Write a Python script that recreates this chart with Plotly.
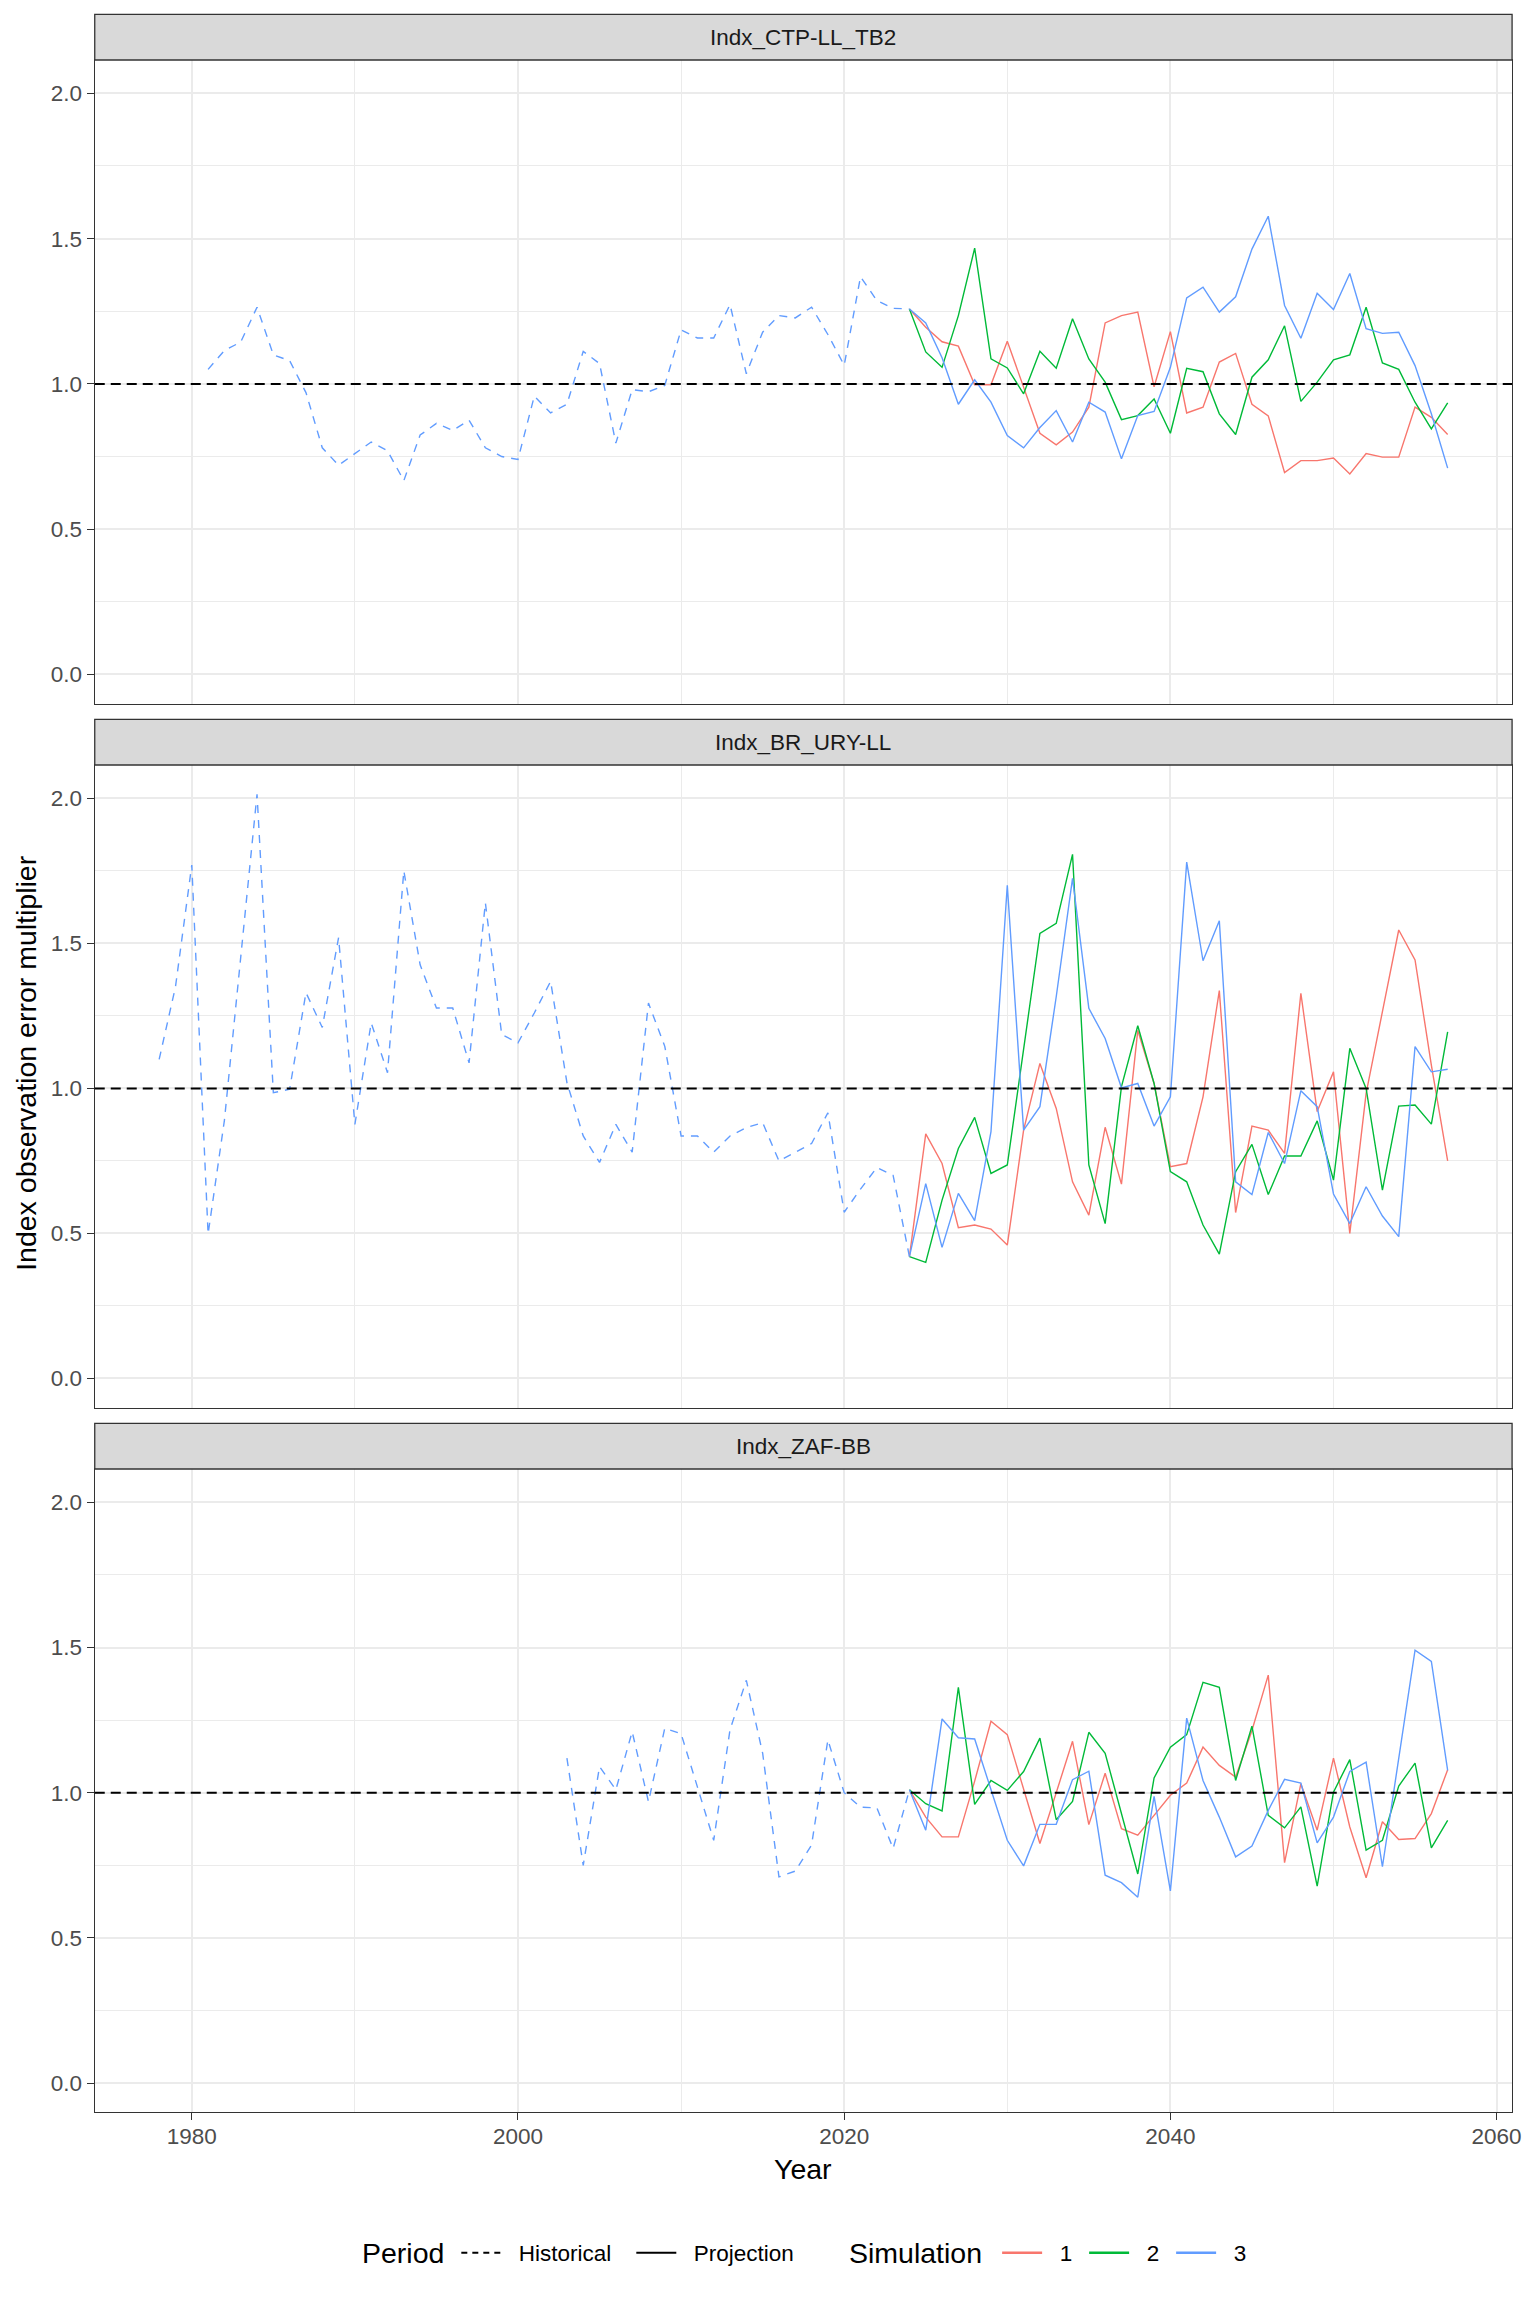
import plotly.graph_objects as go

# panel names (facet strips)
panels = ['Indx_CTP-LL_TB2', 'Indx_BR_URY-LL', 'Indx_ZAF-BB']

# historical index observation error multipliers
hist_years_1 = list(range(1981, 2025))
hist_vals_1 = [1.05, 1.115, 1.144, 1.264, 1.10, 1.08, 0.97, 0.78, 0.72, 0.76,
               0.80, 0.77, 0.667, 0.824, 0.864, 0.84, 0.875, 0.78, 0.75, 0.74,
               0.958, 0.90, 0.93, 1.112, 1.07, 0.796, 0.98, 0.973, 0.995, 1.186,
               1.158, 1.158, 1.273, 1.035, 1.178, 1.235, 1.227, 1.264, 1.17, 1.064,
               1.369, 1.287, 1.26, 1.258]

hist_years_2 = list(range(1978, 2025))
hist_vals_2 = [1.10, 1.35, 1.77, 0.498, 0.89, 1.44, 2.014, 0.985, 0.997, 1.33,
               1.21, 1.52, 0.876, 1.226, 1.054, 1.75, 1.426, 1.277, 1.277, 1.088,
               1.64, 1.186, 1.157, 1.26, 1.369, 1.02, 0.836, 0.745, 0.876, 0.78,
               1.294, 1.145, 0.836, 0.836, 0.78, 0.836, 0.865, 0.882, 0.75, 0.78,
               0.81, 0.916, 0.573, 0.653, 0.727, 0.70, 0.42]

hist_years_3 = list(range(2003, 2025))
hist_vals_3 = [1.119, 0.75, 1.09, 1.01, 1.21, 0.969, 1.222, 1.203, 1.02, 0.836,
               1.217, 1.387, 1.136, 0.71, 0.73, 0.82, 1.182, 1.0, 0.95, 0.948,
               0.808, 1.01]

# projections, simulations 1-3
proj_years = list(range(2024, 2058))

p1_sim1 = [1.258, 1.195, 1.145, 1.13, 0.997, 0.997, 1.147, 0.99, 0.83, 0.79,
           0.834, 0.92, 1.21, 1.235, 1.247, 0.99, 1.18, 0.90, 0.92, 1.075,
           1.105, 0.93, 0.89, 0.695, 0.736, 0.736, 0.745, 0.69, 0.76, 0.748,
           0.748, 0.92, 0.885, 0.826]
p1_sim2 = [1.258, 1.11, 1.057, 1.235, 1.467, 1.086, 1.055, 0.966, 1.112, 1.054,
           1.224, 1.086, 1.006, 0.877, 0.891, 0.948, 0.83, 1.054, 1.042, 0.897,
           0.826, 1.023, 1.083, 1.20, 0.94, 1.006, 1.083, 1.10, 1.264, 1.072,
           1.05, 0.937, 0.845, 0.935]
p1_sim3 = [1.258, 1.21, 1.09, 0.93, 1.014, 0.937, 0.822, 0.78, 0.85, 0.908,
           0.80, 0.937, 0.903, 0.742, 0.891, 0.905, 1.057, 1.296, 1.333, 1.247,
           1.30, 1.464, 1.577, 1.27, 1.157, 1.312, 1.256, 1.38, 1.19, 1.174,
           1.178, 1.063, 0.897, 0.71]

p2_sim1 = [0.42, 0.843, 0.741, 0.52, 0.529, 0.515, 0.46, 0.856, 1.086, 0.931,
           0.678, 0.563, 0.866, 0.67, 1.20, 1.017, 0.73, 0.741, 0.971, 1.337,
           0.572, 0.87, 0.856, 0.776, 1.328, 0.92, 1.057, 0.50, 0.983, 1.264,
           1.546, 1.443, 1.08, 0.75]
p2_sim2 = [0.42, 0.40, 0.615, 0.793, 0.90, 0.707, 0.736, 1.13, 1.534, 1.569,
           1.807, 0.736, 0.534, 1.006, 1.216, 1.017, 0.713, 0.678, 0.529, 0.429,
           0.713, 0.807, 0.634, 0.767, 0.767, 0.888, 0.684, 1.138, 1.0, 0.649,
           0.939, 0.943, 0.877, 1.195]
p2_sim3 = [0.42, 0.672, 0.452, 0.638, 0.544, 0.851, 1.70, 0.856, 0.937, 1.316,
           1.724, 1.276, 1.172, 1.002, 1.017, 0.87, 0.971, 1.78, 1.44, 1.578,
           0.678, 0.634, 0.848, 0.741, 0.992, 0.937, 0.636, 0.534, 0.661, 0.56,
           0.489, 1.144, 1.057, 1.066]

p3_sim1 = [1.01, 0.916, 0.848, 0.848, 1.04, 1.246, 1.20, 1.014, 0.825, 1.0,
           1.177, 0.89, 1.067, 0.876, 0.854, 0.922, 0.991, 1.033, 1.157, 1.094,
           1.054, 1.214, 1.405, 0.759, 1.031, 0.871, 1.119, 0.882, 0.707, 0.90,
           0.839, 0.842, 0.928, 1.079]
p3_sim2 = [1.01, 0.962, 0.937, 1.363, 0.96, 1.042, 1.008, 1.073, 1.188, 0.907,
           0.97, 1.208, 1.136, 0.928, 0.72, 1.051, 1.157, 1.20, 1.38, 1.363,
           1.042, 1.229, 0.922, 0.879, 0.951, 0.678, 1.002, 1.114, 0.802, 0.836,
           1.023, 1.102, 0.81, 0.905]
p3_sim3 = [1.01, 0.871, 1.254, 1.189, 1.185, 1.008, 0.836, 0.748, 0.891, 0.891,
           1.045, 1.074, 0.716, 0.69, 0.64, 0.987, 0.662, 1.257, 1.042, 0.916,
           0.779, 0.816, 0.939, 1.046, 1.033, 0.827, 0.916, 1.073, 1.105, 0.745,
           1.12, 1.491, 1.452, 1.077]

sim_names = ['1', '2', '3']
sim_colors = ['#F8766D', '#00BA38', '#619CFF']
ref_level = 1.0

hist = [(hist_years_1, hist_vals_1), (hist_years_2, hist_vals_2), (hist_years_3, hist_vals_3)]
proj = [[p1_sim1, p1_sim2, p1_sim3], [p2_sim1, p2_sim2, p2_sim3], [p3_sim1, p3_sim2, p3_sim3]]

W, H = 1536, 2304
x_dom = [95.3 / W, 1521 / W]
# (strip top, panel top, panel bottom) in pixels from top
rows_px = [(14.3, 60, 703.7), (719.3, 765, 1407.7), (1423.3, 1469, 2112.3)]
leg_y = 1 - 2253 / H
pad = '\u00a0\u00a0'  # a little room between legend key and label

FONT = 'Liberation Sans, Arial, sans-serif'
grid_col = '#EBEBEB'
border_col = '#333333'

fig = go.Figure()

for i in range(3):
    ax = '' if i == 0 else str(i + 1)
    hy, hv = hist[i]
    fig.add_trace(go.Scatter(x=hy, y=hv, mode='lines', xaxis='x' + ax, yaxis='y' + ax,
                             line=dict(color=sim_colors[2], width=1.4, dash='8px,7px'),
                             showlegend=False, hoverinfo='skip'))
    for s in range(3):
        fig.add_trace(go.Scatter(x=proj_years, y=proj[i][s], mode='lines',
                                 xaxis='x' + ax, yaxis='y' + ax,
                                 line=dict(color=sim_colors[s], width=1.4),
                                 showlegend=False))

# legend entries
fig.add_trace(go.Scatter(x=[None], y=[None], mode='lines', name=pad + 'Historical',
                         line=dict(color='black', width=2, dash='6px,5px'), legend='legend'))
fig.add_trace(go.Scatter(x=[None], y=[None], mode='lines', name=pad + 'Projection',
                         line=dict(color='black', width=2), legend='legend'))
for s in range(3):
    fig.add_trace(go.Scatter(x=[None], y=[None], mode='lines', name=pad + sim_names[s],
                             line=dict(color=sim_colors[s], width=2.5), legend='legend2'))

layout = dict(
    width=W, height=H, autosize=False,
    margin=dict(l=0, r=0, t=0, b=0),
    paper_bgcolor='white', plot_bgcolor='white',
    font=dict(family=FONT, color='black'),
    legend=dict(orientation='h', x=459 / W, xanchor='left', y=leg_y, yanchor='middle',
                itemwidth=40, entrywidth=120, font=dict(size=22.5), bgcolor='rgba(0,0,0,0)'),
    legend2=dict(orientation='h', x=1003 / W, xanchor='left', y=leg_y, yanchor='middle',
                 itemwidth=40, entrywidth=32, font=dict(size=22.5), bgcolor='rgba(0,0,0,0)'),
)

shapes = []
annotations = []
for i in range(3):
    ax = '' if i == 0 else str(i + 1)
    st, pt, pb = rows_px[i]
    last = i == 2
    layout['xaxis' + ax] = dict(
        domain=x_dom, range=[1974.05, 2060.95], anchor='y' + ax,
        tick0=1980, dtick=20, showgrid=True, gridcolor=grid_col, gridwidth=1.7,
        minor=dict(dtick=10, tick0=1980, showgrid=True, gridcolor=grid_col, gridwidth=0.9),
        showline=True, mirror=True, linecolor=border_col, linewidth=1.3, zeroline=False,
        ticks='outside' if last else '', ticklen=7, tickwidth=1.3, tickcolor=border_col,
        showticklabels=last, tickfont=dict(size=22.5, color='#4D4D4D'), ticklabelstandoff=-3,
        matches=None if i == 0 else 'x')
    layout['yaxis' + ax] = dict(
        domain=[1 - pb / H, 1 - pt / H], range=[-0.1007, 2.1148], anchor='x' + ax,
        tick0=0, dtick=0.5, tickformat='.1f', showgrid=True, gridcolor=grid_col, gridwidth=1.7,
        minor=dict(dtick=0.25, tick0=0, showgrid=True, gridcolor=grid_col, gridwidth=0.9),
        showline=True, mirror=True, linecolor=border_col, linewidth=1.3, zeroline=False,
        ticks='outside', ticklen=7, tickwidth=1.3, tickcolor=border_col,
        tickfont=dict(size=22.5, color='#4D4D4D'))
    # strip
    shapes.append(dict(type='rect', xref='paper', yref='paper', x0=x_dom[0], x1=x_dom[1],
                       y0=1 - pt / H, y1=1 - st / H, fillcolor='#D9D9D9',
                       line=dict(color=border_col, width=1.3), layer='above'))
    annotations.append(dict(text=panels[i], xref='paper', yref='paper',
                            x=(x_dom[0] + x_dom[1]) / 2, y=1 - (st + pt) / 2 / H,
                            showarrow=False, font=dict(size=22.5, color='#1A1A1A'),
                            xanchor='center', yanchor='middle'))
    # reference line at 1
    shapes.append(dict(type='line', xref='x' + ax + ' domain', yref='y' + ax,
                       x0=0, x1=1, y0=ref_level, y1=ref_level,
                       line=dict(color='black', width=2, dash='10px,6px'), layer='above'))

annotations.append(dict(text='Year', xref='paper', yref='paper',
                        x=(x_dom[0] + x_dom[1]) / 2, y=1 - 2169 / H, showarrow=False,
                        font=dict(size=28.5), xanchor='center', yanchor='middle'))
annotations.append(dict(text='Index observation error multiplier', xref='paper', yref='paper',
                        x=26 / W, y=1 - 1063 / H, showarrow=False, textangle=-90,
                        font=dict(size=28.5), xanchor='center', yanchor='middle'))
# legend titles
annotations.append(dict(text='Period', xref='paper', yref='paper', x=362 / W, y=leg_y,
                        showarrow=False, font=dict(size=28.5), xanchor='left', yanchor='middle'))
annotations.append(dict(text='Simulation', xref='paper', yref='paper', x=852 / W, y=leg_y,
                        showarrow=False, font=dict(size=28.5), xanchor='left', yanchor='middle'))

layout['shapes'] = shapes
layout['annotations'] = annotations
fig.update_layout(**layout)

fig.write_html("out.html", config={'displayModeBar': False},
               post_script="document.body.style.margin='0px';")
